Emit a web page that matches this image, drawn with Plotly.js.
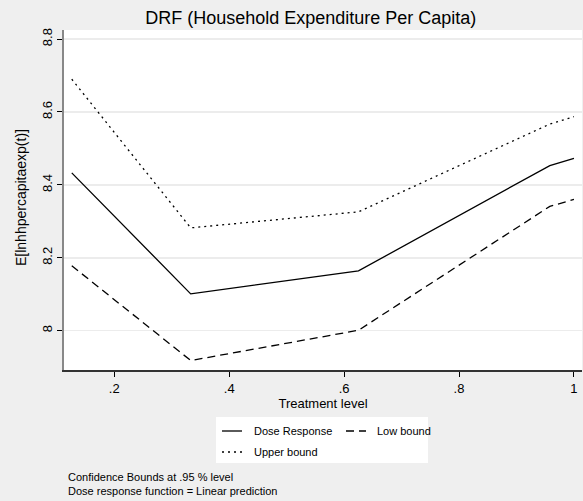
<!DOCTYPE html>
<html><head><meta charset="utf-8">
<script src="https://cdn.plot.ly/plotly-3.0.1.min.js"></script>
<style>html,body{margin:0;padding:0;background:#efefef}</style>
</head><body>
<div id="chart" style="width:583px;height:501px"></div>
<script>
const treatment = [0.126, 0.333, 0.625, 0.958, 1.0];
const doseResponse = [8.433, 8.101, 8.164, 8.453, 8.473];
const upperBound = [8.690, 8.282, 8.326, 8.567, 8.587];
const lowBound = [8.178, 7.918, 8.001, 8.341, 8.360];
const xTickVals = [0.2, 0.4, 0.6, 0.8, 1];
const xTickText = ['.2', '.4', '.6', '.8', '1'];
const yTickVals = [8, 8.2, 8.4, 8.6, 8.8];
const yTickText = ['8', '8.2', '8.4', '8.6', '8.8'];

const FONT = 'Liberation Sans, Arial, sans-serif';
const traces = [
  {x: treatment, y: doseResponse, mode: 'lines', name: 'Dose Response', line: {color: '#000', width: 1.3}},
  {x: treatment, y: lowBound, mode: 'lines', name: 'Low bound', line: {color: '#000', width: 1.3, dash: '8px,5px'}},
  {x: treatment, y: upperBound, mode: 'lines', name: 'Upper bound', line: {color: '#000', width: 1.3, dash: '2px,4px'}}
];
const layout = {
  width: 583, height: 501,
  paper_bgcolor: '#efefef', plot_bgcolor: '#ffffff',
  margin: {l: 64, r: 1, t: 30, b: 131},
  showlegend: false,
  font: {family: FONT, color: '#000', size: 13},
  title: {text: 'DRF (Household Expenditure Per Capita)', font: {size: 18, family: FONT}, x: 0.533, xanchor: 'center', y: 0.965, yanchor: 'middle'},
  xaxis: {range: [0.1125, 1.014], tickvals: xTickVals, ticktext: xTickText, ticks: 'outside', ticklen: 5, tickcolor: '#000',
    showgrid: false, zeroline: false, showline: true, linecolor: '#333', linewidth: 2,
    title: {text: 'Treatment level', font: {size: 13}, standoff: 4}, tickfont: {size: 13}},
  yaxis: {range: [7.892, 8.825], tickvals: yTickVals, ticktext: yTickText, ticks: 'outside', ticklen: 5, tickcolor: '#000', tickangle: -90,
    showgrid: true, gridcolor: '#ececec', gridwidth: 1.5, zeroline: false, showline: true, linecolor: '#888', linewidth: 2,
    tickfont: {size: 13}},
  shapes: [
    {type: 'rect', xref: 'paper', yref: 'paper', x0: 152/518, x1: 364/518, y0: -93/340, y1: -47/340, fillcolor: '#fff', line: {width: 0}, layer: 'below'},
    {type: 'line', xref: 'paper', yref: 'paper', x0: 158/518, x1: 178/518, y0: -61/340, y1: -61/340, line: {color: '#000', width: 1.3}},
    {type: 'line', xref: 'paper', yref: 'paper', x0: 282/518, x1: 302/518, y0: -61/340, y1: -61/340, line: {color: '#000', width: 1.3, dash: '8px,5px'}},
    {type: 'line', xref: 'paper', yref: 'paper', x0: 158/518, x1: 178/518, y0: -82/340, y1: -82/340, line: {color: '#000', width: 1.3, dash: '2px,4px'}}
  ],
  annotations: [
    {text: 'E[lnhhpercapitaexp(t)]', xref: 'paper', yref: 'paper', x: -43/518, y: (370-198)/340, xanchor: 'center', yanchor: 'middle', textangle: -90, showarrow: false, font: {size: 14}},
    {text: 'Dose Response', xref: 'paper', yref: 'paper', x: 188/518, y: -61/340, xanchor: 'left', yanchor: 'middle', showarrow: false, font: {size: 11}},
    {text: 'Low bound', xref: 'paper', yref: 'paper', x: 311/518, y: -61/340, xanchor: 'left', yanchor: 'middle', showarrow: false, font: {size: 11}},
    {text: 'Upper bound', xref: 'paper', yref: 'paper', x: 188/518, y: -82/340, xanchor: 'left', yanchor: 'middle', showarrow: false, font: {size: 11}},
    {text: 'Confidence Bounds at .95 % level<br>Dose response function = Linear prediction', xref: 'paper', yref: 'paper', x: 2/518, y: -99/340, xanchor: 'left', yanchor: 'top', align: 'left', showarrow: false, font: {size: 11}}
  ]
};
Plotly.newPlot('chart', traces, layout, {displayModeBar: false, staticPlot: true});
</script>
</body></html>
